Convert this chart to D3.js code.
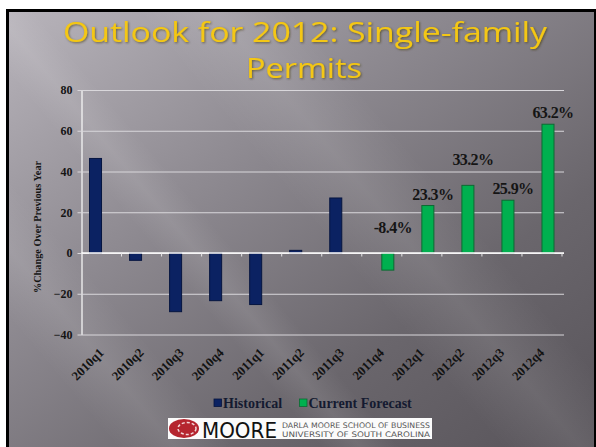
<!DOCTYPE html>
<html>
<head>
<meta charset="utf-8">
<script src="https://cdn.jsdelivr.net/npm/d3@7"></script>
<style>
  html, body { margin: 0; padding: 0; background: #fff; }
  svg { display: block; }
</style>
</head>
<body>
<svg id="chart" width="596" height="447"></svg>
<script>
/* CHART DATA */
var quarters = ["2010q1", "2010q2", "2010q3", "2010q4", "2011q1", "2011q2",
                "2011q3", "2011q4", "2012q1", "2012q2", "2012q3", "2012q4"];
var historical = [46.4, -3.6, -28.8, -23.4, -25.3, 1.3, 27.0, null, null, null, null, null];
var forecast = [null, null, null, null, null, null, null, -8.4, 23.3, 33.2, 25.9, 63.2];
var seriesNames = ["Historical", "Current Forecast"];
var seriesColors = ["#0b2262", "#00b04f"];
var seriesStrokes = ["#061540", "#0c6a32"];
var yTicks = [-40, -20, 0, 20, 40, 60, 80];
/* EXTRA LIFT (PX) OF SOME DATA LABELS, AS PLACED ON THE SLIDE */
var labelLift = [0, 0, 0, 0, 0, 0, 0, 14, 0, 14, 0, 0];

var svg = d3.select("#chart");
var defs = svg.append("defs");

/* SLIDE BACKGROUND */
var bg = defs.append("linearGradient").attr("id", "bg")
    .attr("x1", "0%").attr("y1", "0%").attr("x2", "100%").attr("y2", "100%");
bg.append("stop").attr("offset", "0%").attr("stop-color", "#b8b4bb");
bg.append("stop").attr("offset", "35%").attr("stop-color", "#8f8b92");
bg.append("stop").attr("offset", "70%").attr("stop-color", "#6a666c");
bg.append("stop").attr("offset", "100%").attr("stop-color", "#58545a");

var streak = defs.append("linearGradient").attr("id", "streak")
    .attr("x1", "0%").attr("y1", "0%").attr("x2", "100%").attr("y2", "0%");
streak.append("stop").attr("offset", "0%").attr("stop-color", "#fff").attr("stop-opacity", 0);
streak.append("stop").attr("offset", "50%").attr("stop-color", "#fff").attr("stop-opacity", 0.09);
streak.append("stop").attr("offset", "100%").attr("stop-color", "#fff").attr("stop-opacity", 0);

var glow = defs.append("filter").attr("id", "glow")
    .attr("x", "-5%").attr("y", "-20%").attr("width", "110%").attr("height", "140%");
glow.append("feDropShadow").attr("dx", 1).attr("dy", 1).attr("stdDeviation", 1)
    .attr("flood-color", "#3a3000").attr("flood-opacity", 0.6);

svg.append("rect").attr("x", 6).attr("y", 9).attr("width", 590).attr("height", 440).attr("fill", "#000");
svg.append("rect").attr("x", 9).attr("y", 12).attr("width", 585).attr("height", 435).attr("fill", "url(#bg)");

/* DIAGONAL LIGHT STREAKS */
var clip = defs.append("clipPath").attr("id", "inner");
clip.append("rect").attr("x", 9).attr("y", 12).attr("width", 585).attr("height", 435);
var streaks = svg.append("g").attr("clip-path", "url(#inner)");
[[-60, 90], [140, 60], [330, 120]].forEach(function (s) {
  streaks.append("rect")
    .attr("x", s[0]).attr("y", -200).attr("width", s[1]).attr("height", 900)
    .attr("fill", "url(#streak)")
    .attr("transform", "rotate(-40," + (s[0] + s[1] / 2) + ",220)");
});

/* TITLE */
var title = svg.append("g").attr("filter", "url(#glow)")
    .attr("font-family", "'Open Sans', 'DejaVu Sans', sans-serif")
    .attr("font-size", "28px").attr("fill", "#f4c712").attr("text-anchor", "middle");
title.append("text").attr("x", 305).attr("y", 42)
    .attr("textLength", 484).attr("lengthAdjust", "spacingAndGlyphs")
    .text("Outlook for 2012: Single-family");
title.append("text").attr("x", 304).attr("y", 78)
    .attr("textLength", 116).attr("lengthAdjust", "spacingAndGlyphs")
    .text("Permits");

/* SCALES */
var x = d3.scaleBand().domain(quarters).range([81.5, 562]);
var x1 = d3.scaleBand().domain(seriesNames).range([8, x.bandwidth() - 8]);
var y = d3.scaleLinear().domain([-40, 80]).range([334.5, 90]);

var serif = "'Liberation Serif', 'Times New Roman', serif";

/* GRIDLINES + Y AXIS */
var yAxis = svg.append("g")
    .attr("transform", "translate(" + x.range()[0] + ",0)")
    .call(d3.axisLeft(y).tickValues(yTicks).tickSize(-(564 - x.range()[0])).tickSizeOuter(0).tickPadding(9));
yAxis.select(".domain").attr("stroke", "#f4f4f4").attr("stroke-width", 1.3);
yAxis.selectAll(".tick line").attr("stroke", "#d9d7db").attr("stroke-width", 1).attr("x1", -4);
yAxis.selectAll(".tick text")
    .attr("font-family", serif).attr("font-weight", "bold").attr("font-size", "12px").attr("fill", "#151515");

/* Y AXIS TITLE */
svg.append("text")
    .attr("transform", "translate(40.5,227) rotate(-90)")
    .attr("text-anchor", "middle")
    .attr("font-family", serif).attr("font-weight", "bold").attr("font-size", "10.3px").attr("fill", "#151515")
    .text("%Change Over Previous Year");

/* BARS */
var rows = quarters.map(function (q, i) {
  return { q: q, i: i, vals: [historical[i], forecast[i]] };
});
var groups = svg.append("g").selectAll("g").data(rows).enter().append("g")
    .attr("transform", function (d) { return "translate(" + x(d.q) + ",0)"; });
groups.selectAll("rect")
    .data(function (d) {
      return d.vals.map(function (v, k) { return { s: seriesNames[k], k: k, v: v }; })
                   .filter(function (e) { return e.v !== null; });
    })
    .enter().append("rect")
    .attr("x", function (e) { return x1(e.s); })
    .attr("width", x1.bandwidth())
    .attr("y", function (e) { return y(Math.max(0, e.v)); })
    .attr("height", function (e) { return Math.abs(y(e.v) - y(0)); })
    .attr("fill", function (e) { return seriesColors[e.k]; })
    .attr("stroke", function (e) { return seriesStrokes[e.k]; })
    .attr("stroke-width", 1);

/* ZERO (CATEGORY) AXIS */
var xAxis = svg.append("g")
    .attr("transform", "translate(0," + y(0) + ")")
    .call(d3.axisBottom(x).tickSize(0).tickFormat(""));
xAxis.select(".domain").attr("stroke", "#ffffff").attr("stroke-width", 1.6).attr("d", "M" + x.range()[0] + ",0H564");
svg.append("g").selectAll("line").data(quarters).enter().append("line")
    .attr("x1", function (q) { return x(q) + x.step(); })
    .attr("x2", function (q) { return x(q) + x.step(); })
    .attr("y1", y(0)).attr("y2", y(0) + 3.5)
    .attr("stroke", "#e8e8e8").attr("stroke-width", 1);

/* ROTATED CATEGORY LABELS */
svg.append("g").selectAll("text").data(quarters).enter().append("text")
    .attr("transform", function (q) {
      return "translate(" + (x(q) + x.bandwidth() / 2 + 3) + "," + (y(-40) + 19) + ") rotate(-45)";
    })
    .attr("text-anchor", "end")
    .attr("font-family", serif).attr("font-weight", "bold").attr("font-size", "12.8px").attr("fill", "#121212")
    .text(function (q) { return q; });

/* FORECAST DATA LABELS */
svg.append("g").selectAll("text")
    .data(rows.filter(function (d) { return forecast[d.i] !== null; }))
    .enter().append("text")
    .attr("x", function (d) { return x(d.q) + x1("Current Forecast") + x1.bandwidth() / 2 + 5; })
    .attr("y", function (d) { return y(Math.max(0, forecast[d.i])) - 6 - labelLift[d.i]; })
    .attr("text-anchor", "middle")
    .attr("font-family", serif).attr("font-weight", "bold").attr("font-size", "16px").attr("fill", "#151515")
    .attr("letter-spacing", "-0.6px")
    .text(function (d) { return forecast[d.i].toFixed(1) + "%"; });

/* LEGEND */
var legend = svg.append("g").attr("font-family", serif).attr("font-weight", "bold")
    .attr("font-size", "14px").attr("fill", "#141a30");
var legendX = [214, 299.5];
seriesNames.forEach(function (name, k) {
  legend.append("rect").attr("x", legendX[k]).attr("y", 399).attr("width", 7.5).attr("height", 7.5)
      .attr("fill", seriesColors[k]).attr("stroke", seriesStrokes[k]).attr("stroke-width", 0.8);
  legend.append("text").attr("x", legendX[k] + 9).attr("y", 407.5).text(name);
});

/* SCHOOL LOGO */
var logo = svg.append("g");
logo.append("rect").attr("x", 168).attr("y", 418).attr("width", 264).attr("height", 21).attr("fill", "#fbfbfb");
logo.append("ellipse").attr("cx", 184).attr("cy", 428.5).attr("rx", 15).attr("ry", 9.5).attr("fill", "#b5252f");
logo.append("ellipse").attr("cx", 187).attr("cy", 428.5).attr("rx", 9).attr("ry", 6).attr("fill", "none")
    .attr("stroke", "#f3d6d8").attr("stroke-width", 1.5).attr("stroke-dasharray", "3,2");
logo.append("text").attr("x", 202).attr("y", 438).attr("font-family", "'DejaVu Sans', sans-serif")
    .attr("font-size", "22px").attr("fill", "#111")
    .attr("textLength", 75).attr("lengthAdjust", "spacingAndGlyphs").text("MOORE");
logo.append("text").attr("x", 282).attr("y", 427.5).attr("font-family", "'DejaVu Sans', sans-serif")
    .attr("font-size", "7.6px").attr("fill", "#555")
    .attr("textLength", 148).attr("lengthAdjust", "spacingAndGlyphs").text("DARLA MOORE SCHOOL OF BUSINESS");
logo.append("text").attr("x", 282).attr("y", 436.5).attr("font-family", "'DejaVu Sans', sans-serif")
    .attr("font-size", "7.6px").attr("fill", "#555")
    .attr("textLength", 148).attr("lengthAdjust", "spacingAndGlyphs").text("UNIVERSITY OF SOUTH CAROLINA");
</script>
</body>
</html>
